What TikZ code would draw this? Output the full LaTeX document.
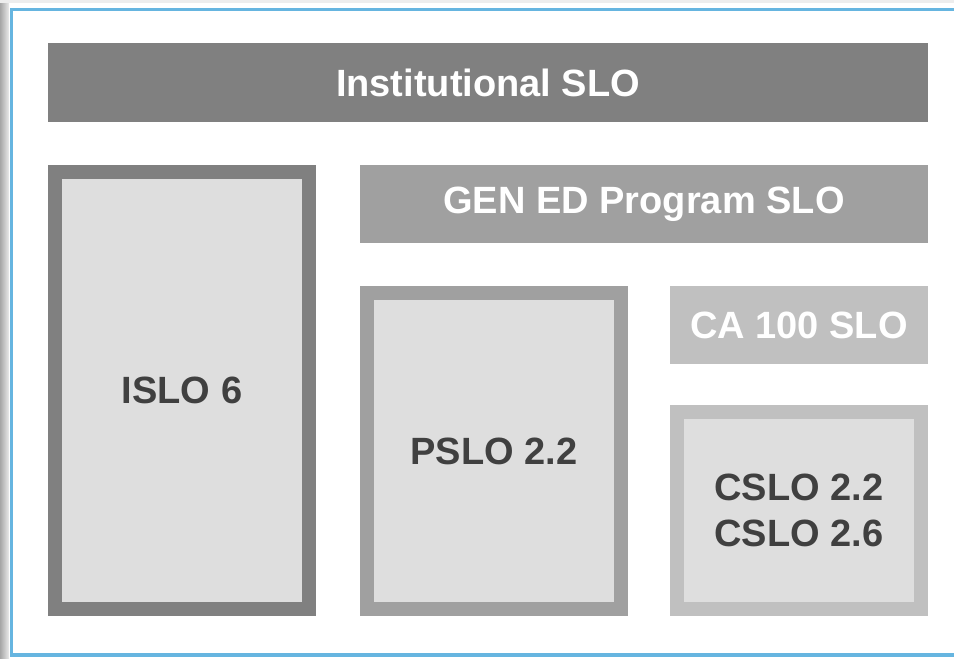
\documentclass[tikz,border=0pt]{standalone}
\usepackage{fontspec}
\setmainfont{Liberation Sans}
\usetikzlibrary{positioning}

\definecolor{darkgrey}{HTML}{808080}
\definecolor{midgrey}{HTML}{A0A0A0}
\definecolor{lightgrey}{HTML}{C0C0C0}
\definecolor{innergrey}{HTML}{DEDEDE}
\definecolor{labelgrey}{HTML}{404040}
\definecolor{frameblue}{HTML}{66B5E0}

\tikzset{
  slofont/.style={font=\fontsize{38}{45.6}\selectfont\bfseries},
  slobar/.style={slofont,draw=none,text=white,inner sep=0pt},
  slobox/.style={slofont,line width=14pt,fill=innergrey,text=labelgrey,inner sep=0pt,align=center}
}

\begin{document}
\begin{tikzpicture}[x=1pt,y=-1pt]
  %frame
  \useasboundingbox (0,0) rectangle (954,659);
  \fill[white] (0,0) rectangle (954,659);
  % Shadow
  \shade[left color=black!35,right color=black!8] (0,0) rectangle (9,659);
  \fill[black!7] (0,0) rectangle (954,2.5);
  % Blue border
  \coordinate (tr) at (954,9.5);
  \coordinate (tl) at (11.5,9.5);
  \coordinate (bl) at (11.5,655);
  \coordinate (br) at (954,655);
  \draw[frameblue,line width=3.5pt] (tr) -- (tl) -- (bl) -- (br);
  % Institutional level
  \node[slobar,fill=darkgrey,minimum width=880pt,minimum height=79pt] (inst) at (488,82.5) {Institutional SLO};
  \node[slobox,draw=darkgrey,minimum width=254pt,minimum height=437pt] (islo) at (182,390.5) {ISLO 6};
  % Program level
  \node[slobar,fill=midgrey,minimum width=568pt,minimum height=78pt] (gened) at (644,204) {GEN ED Program SLO};
  \node[slobox,draw=midgrey,minimum width=254pt,minimum height=316pt] (pslo) at (494,451) {PSLO 2.2};
  % Course level
  \node[slobar,fill=lightgrey,minimum width=258pt,minimum height=78pt] (ca) at (799,325) {CA 100 SLO};
  \node[slobox,draw=lightgrey,minimum width=244pt,minimum height=197pt] (cslo) at (799,510.5) {CSLO 2.2\\CSLO 2.6};
\end{tikzpicture}
\end{document}
